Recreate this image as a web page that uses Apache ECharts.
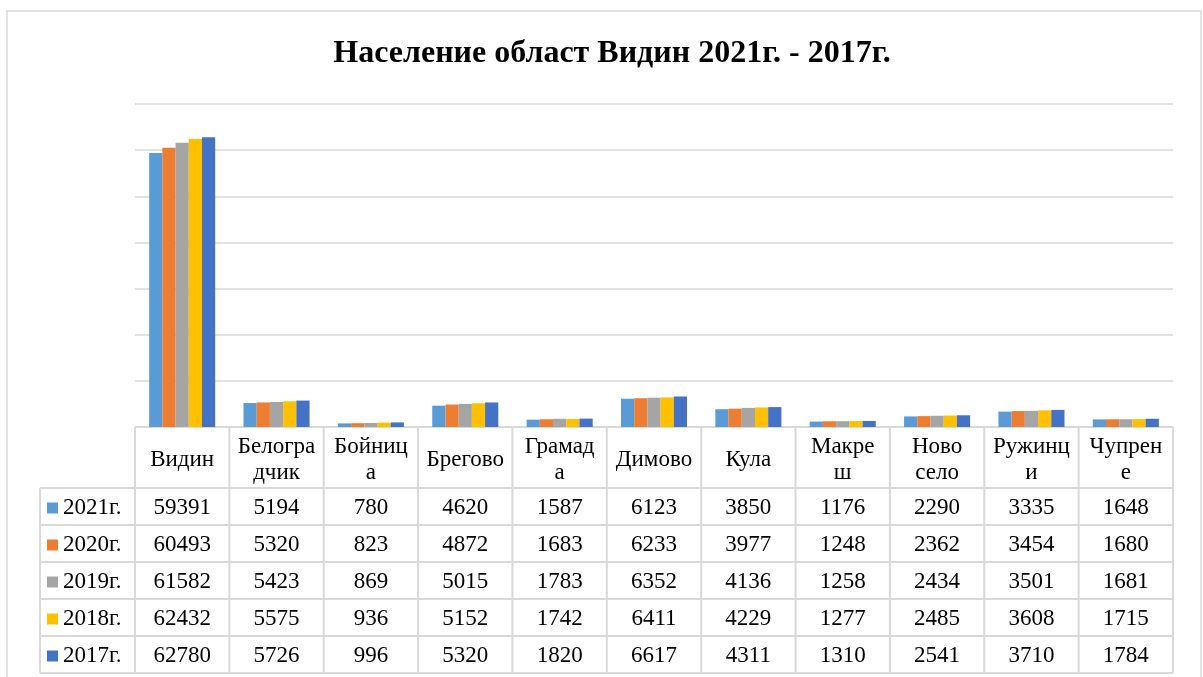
<!DOCTYPE html>
<html>
<head>
<meta charset="utf-8">
<script src="https://cdn.jsdelivr.net/npm/echarts@6/dist/echarts.min.js"></script>
<style>
  html, body { margin: 0; padding: 0; background: #fff; }
  #chart { width: 1203px; height: 677px; }
</style>
</head>
<body>
<div id="chart"></div>
<script>
// данни
const categories = ['Видин', 'Белоградчик', 'Бойница', 'Брегово', 'Грамада', 'Димово', 'Кула', 'Макреш', 'Ново село', 'Ружинци', 'Чупрене'];
const headerLabels = ['Видин', 'Белогра\nдчик', 'Бойниц\nа', 'Брегово', 'Грамад\nа', 'Димово', 'Кула', 'Макре\nш', 'Ново\nсело', 'Ружинц\nи', 'Чупрен\nе'];
const years = ['2021г.', '2020г.', '2019г.', '2018г.', '2017г.'];
const v2021 = [59391, 5194, 780, 4620, 1587, 6123, 3850, 1176, 2290, 3335, 1648];
const v2020 = [60493, 5320, 823, 4872, 1683, 6233, 3977, 1248, 2362, 3454, 1680];
const v2019 = [61582, 5423, 869, 5015, 1783, 6352, 4136, 1258, 2434, 3501, 1681];
const v2018 = [62432, 5575, 936, 5152, 1742, 6411, 4229, 1277, 2485, 3608, 1715];
const v2017 = [62780, 5726, 996, 5320, 1820, 6617, 4311, 1310, 2541, 3710, 1784];
const yearValues = [v2021, v2020, v2019, v2018, v2017];
const colors = ['#5B9BD5', '#ED7D31', '#A5A5A5', '#FFC000', '#4472C4'];

const serif = '"Liberation Serif", "Times New Roman", serif';
const gridColor = '#D9D9D9';

const plotLeft = 135, plotRight = 1173, plotTop = 104, plotBottom = 427;
const legendLeft = 40;
const headerBottom = 488;
const rowH = 37;

var chart = echarts.init(document.getElementById('chart'));

const option = {
  animation: false,
  color: colors,
  title: {
    text: 'Население област Видин 2021г. - 2017г.',
    left: 607,
    textAlign: 'center',
    top: 33,
    textStyle: {
      fontFamily: serif,
      fontWeight: 'bold',
      fontSize: 32,
      color: '#000'
    }
  },
  grid: {
    left: plotLeft,
    right: 1203 - plotRight,
    top: plotTop,
    bottom: 677 - plotBottom,
    containLabel: false
  },
  xAxis: {
    type: 'category',
    data: categories,
    axisLine: { show: false },
    axisTick: { show: false },
    axisLabel: { show: false }
  },
  yAxis: {
    type: 'value',
    min: 0,
    max: 70000,
    interval: 10000,
    axisLine: { show: false },
    axisTick: { show: false },
    axisLabel: { show: false },
    splitLine: { lineStyle: { color: gridColor, width: 1.5 } }
  },
  series: years.map(function (y, i) {
    return {
      name: y,
      type: 'bar',
      data: yearValues[i],
      barGap: '0%',
      barCategoryGap: '30%'
    };
  })
};

chart.setOption(option);

// таблица с данни под графиката
function buildTable() {
  const g = [];
  const lineStyle = { stroke: gridColor, lineWidth: 2 };
  const colW = (plotRight - plotLeft) / categories.length;
  const tableBottom = headerBottom + rowH * years.length;
  const font = '23px ' + serif;

  // outer frame
  g.push({ type: 'rect', shape: { x: 7, y: 11, width: 1194, height: 700 }, style: { fill: null, stroke: gridColor, lineWidth: 1.5 }, silent: true });

  // horizontal lines
  g.push({ type: 'line', shape: { x1: plotLeft, y1: plotBottom, x2: plotRight, y2: plotBottom }, style: lineStyle });
  for (let r = 0; r <= years.length; r++) {
    const y = headerBottom + r * rowH;
    g.push({ type: 'line', shape: { x1: legendLeft, y1: y, x2: plotRight, y2: y }, style: lineStyle });
  }
  // vertical lines
  g.push({ type: 'line', shape: { x1: legendLeft, y1: headerBottom, x2: legendLeft, y2: tableBottom }, style: lineStyle });
  for (let c = 0; c <= categories.length; c++) {
    const x = plotLeft + c * colW;
    g.push({ type: 'line', shape: { x1: x, y1: plotBottom, x2: x, y2: tableBottom }, style: lineStyle });
  }

  // header labels
  categories.forEach(function (cat, i) {
    const cx = chart.convertToPixel({ xAxisIndex: 0 }, cat);
    g.push({
      type: 'text',
      style: {
        text: headerLabels[i], x: cx, y: (plotBottom + headerBottom) / 2 + 2,
        textAlign: 'center', textVerticalAlign: 'middle',
        font: font, fill: '#000', lineHeight: 26
      }
    });
  });

  // rows
  years.forEach(function (yr, r) {
    const cy = headerBottom + r * rowH + rowH / 2 + 1;
    g.push({ type: 'rect', shape: { x: 47, y: cy - 5, width: 11, height: 11 }, style: { fill: colors[r] } });
    g.push({
      type: 'text',
      style: { text: yr, x: 63, y: cy, textAlign: 'left', textVerticalAlign: 'middle', font: font, fill: '#000' }
    });
    categories.forEach(function (cat, i) {
      const cx = chart.convertToPixel({ xAxisIndex: 0 }, cat);
      g.push({
        type: 'text',
        style: {
          text: String(yearValues[r][i]), x: cx, y: cy,
          textAlign: 'center', textVerticalAlign: 'middle',
          font: font, fill: '#000'
        }
      });
    });
  });
  chart.setOption({ graphic: { elements: g } });
}

buildTable();
</script>
</body>
</html>
